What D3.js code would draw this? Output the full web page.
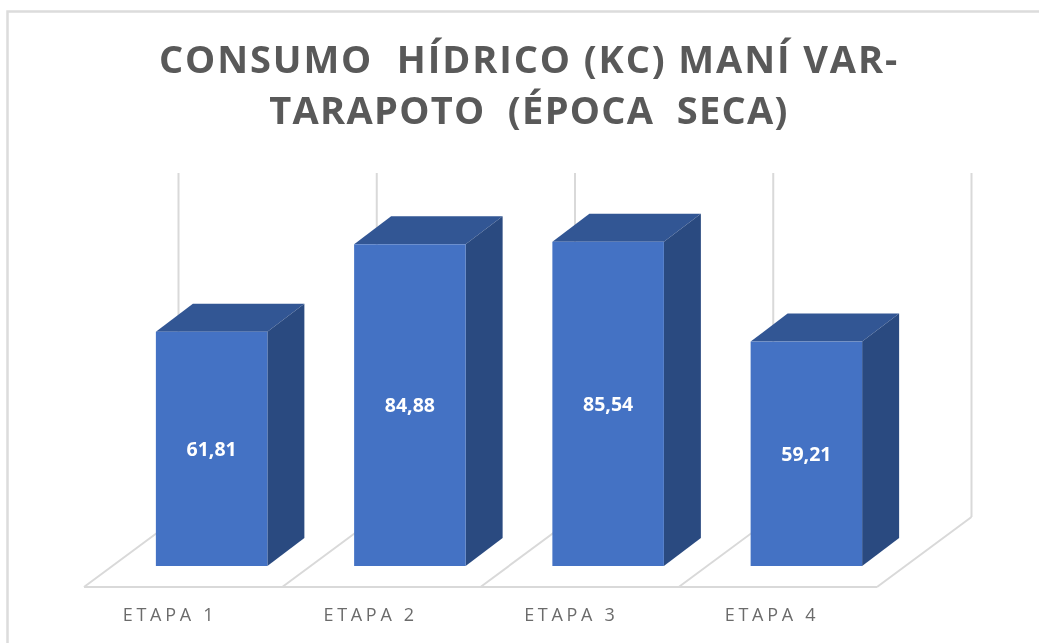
<!DOCTYPE html>
<html>
<head>
<meta charset="utf-8">
<script src="https://cdn.jsdelivr.net/npm/d3@7"></script>
<style>
  html, body { margin: 0; padding: 0; background: #fff; }
  svg { display: block; filter: blur(0.45px); }
</style>
</head>
<body>
<svg width="1039" height="643"></svg>
<script>
var etapas = ['ETAPA 1', 'ETAPA 2', 'ETAPA 3', 'ETAPA 4'];
var consumo = [61.81, 84.88, 85.54, 59.21];
var etiquetas = ['61,81', '84,88', '85,54', '59,21'];
var titulo = ['CONSUMO  HÍDRICO (KC) MANÍ VAR-', 'TARAPOTO  (ÉPOCA  SECA)'];

var width = 1039;
var height = 643;
var svg = d3.select('svg');

// floor of the 3d box, front edge and how far the back edge is shifted
var floorY = 587;
var depthX = 94.5;
var depthY = 70;
var barDx = 37;
var barDy = 28;
var barInset = 28.5;
var barWidth = 111.5;

var x = d3.scaleBand().domain(etapas).range([84, 877]);
var y = d3.scaleLinear().domain([0, 100]).range([566, 187]);
var labelX = d3.scalePoint().domain(etapas).range([170, 772]);

function barX(d) {
  return x(d) + x.bandwidth() / 2 + barInset - barWidth / 2;
}

// picture frame
svg.append('path')
  .attr('d', 'M7.5,643V11.5H1039')
  .attr('fill', 'none')
  .attr('stroke', '#dcdcdc')
  .attr('stroke-width', 2.5);

var title = svg.append('g')
  .attr('font-family', '"Open Sans"')
  .attr('font-weight', 700)
  .attr('font-size', '38px')
  .attr('fill', '#595959')
  .attr('text-anchor', 'middle');
title.selectAll('text').data(titulo).enter()
  .append('text')
  .attr('x', 529)
  .attr('y', function(d, i) { return 73 + i * 51; })
  .attr('letter-spacing', function(d, i) { return i == 0 ? '1.9px' : '1.3px'; })
  .style('white-space', 'pre')
  .text(function(d) { return d; });

// floor and back wall lines
var grid = svg.append('g')
  .attr('fill', 'none')
  .attr('stroke', '#d9d9d9')
  .attr('stroke-width', 2);

var edges = x.domain().map(function(d) { return x(d); }).concat([x.range()[1]]);
var wallTop = 173;

grid.selectAll('line.diag').data(edges).enter()
  .append('line')
  .attr('class', 'diag')
  .attr('x1', function(d) { return d; })
  .attr('y1', floorY)
  .attr('x2', function(d) { return d + depthX; })
  .attr('y2', floorY - depthY);

grid.selectAll('line.wall').data(edges).enter()
  .append('line')
  .attr('class', 'wall')
  .attr('x1', function(d) { return d + depthX; })
  .attr('y1', floorY - depthY)
  .attr('x2', function(d) { return d + depthX; })
  .attr('y2', wallTop);

grid.append('line')
  .attr('x1', x.range()[0])
  .attr('x2', x.range()[1])
  .attr('y1', floorY)
  .attr('y2', floorY);

var bars = svg.append('g').selectAll('g').data(etapas).enter().append('g');

// top face
bars.append('path')
  .attr('fill', '#325694')
  .attr('d', function(d, i) {
    var x0 = barX(d), t = y(consumo[i]);
    return d3.line()([[x0, t], [x0 + barWidth, t], [x0 + barWidth + barDx, t - barDy], [x0 + barDx, t - barDy]]) + 'Z';
  });

// side face
bars.append('path')
  .attr('fill', '#2a4a80')
  .attr('d', function(d, i) {
    var x1 = barX(d) + barWidth, t = y(consumo[i]), b = y(0);
    return d3.line()([[x1, t], [x1 + barDx, t - barDy], [x1 + barDx, b - barDy], [x1, b]]) + 'Z';
  });

// front face
bars.append('rect')
  .attr('x', barX)
  .attr('y', function(d, i) { return y(consumo[i]); })
  .attr('width', barWidth)
  .attr('height', function(d, i) { return y(0) - y(consumo[i]); })
  .attr('fill', '#4472c4');

bars.append('text')
  .attr('x', function(d) { return barX(d) + barWidth / 2; })
  .attr('y', function(d, i) { return (y(consumo[i]) + y(0)) / 2 + 7; })
  .attr('text-anchor', 'middle')
  .attr('font-family', '"Open Sans"')
  .attr('font-weight', 700)
  .attr('font-size', '19.5px')
  .attr('fill', '#fff')
  .text(function(d, i) { return etiquetas[i]; });

svg.append('g').selectAll('text').data(etapas).enter()
  .append('text')
  .attr('x', function(d) { return labelX(d); })
  .attr('y', 621)
  .attr('text-anchor', 'middle')
  .attr('font-family', '"Open Sans"')
  .attr('font-size', '18px')
  .attr('letter-spacing', '3.7px')
  .attr('fill', '#6b6b6b')
  .text(function(d) { return d; });
</script>
</body>
</html>
